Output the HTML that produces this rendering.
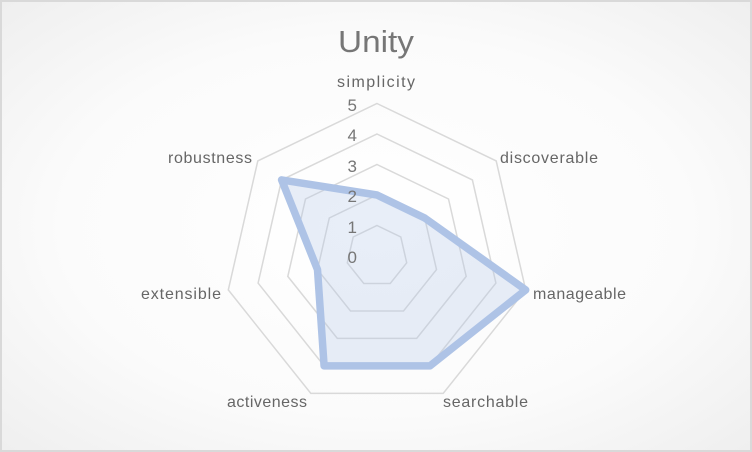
<!DOCTYPE html>
<html><head><meta charset="utf-8"><style>
html,body{margin:0;padding:0;}
body{width:752px;height:452px;overflow:hidden;}
</style></head><body>
<svg width="752" height="452" xmlns="http://www.w3.org/2000/svg" style="display:block">
<defs>
<radialGradient id="bg" cx="50%" cy="50%" r="70%">
<stop offset="0" stop-color="#ffffff"/><stop offset="0.6" stop-color="#fbfbfb"/><stop offset="1" stop-color="#efefef"/>
</radialGradient>
</defs>
<rect x="1" y="1" width="750" height="450" fill="url(#bg)" stroke="#d9d9d9" stroke-width="2"/>
<text x="376" y="52" text-anchor="middle" font-family="Liberation Sans, sans-serif" font-size="31" fill="#767676" textLength="76" lengthAdjust="spacingAndGlyphs">Unity</text>
<g fill="none" stroke="#d9d9d9" stroke-width="1.5">
<polygon points="377,103.5 496.2,160.9 525.7,289.9 443.2,393.4 310.8,393.4 228.3,289.9 257.8,160.9"/>
<polygon points="377,134 472.4,179.9 495.9,283.1 429.9,365.9 324.1,365.9 258.1,283.1 281.6,179.9"/>
<polygon points="377,164.5 448.5,199 466.2,276.4 416.7,338.4 337.3,338.4 287.8,276.4 305.5,199"/>
<polygon points="377,195 424.7,218 436.5,269.6 403.5,311 350.5,311 317.5,269.6 329.3,218"/>
<polygon points="377,225.5 400.8,237 406.7,262.8 390.2,283.5 363.8,283.5 347.3,262.8 353.2,237"/>
</g>
<polygon points="377,195 424.7,218 525.7,289.9 429.9,365.9 324.1,365.9 317.5,269.6 281.6,179.9" fill="rgba(180,199,231,0.3)" stroke="#aec3e6" stroke-width="7.5" stroke-linejoin="round"/>
<g font-family="Liberation Sans, sans-serif" font-size="17" fill="#767676" text-anchor="end">
<text x="357" y="111">5</text>
<text x="357" y="141">4</text>
<text x="357" y="172">3</text>
<text x="357" y="202">2</text>
<text x="357" y="233">1</text>
<text x="357" y="263">0</text>
</g>
<g font-family="Liberation Sans, sans-serif" font-size="16" fill="#666666" lengthAdjust="spacingAndGlyphs">
<text x="376" y="87" text-anchor="middle" textLength="78">simplicity</text>
<text x="500" y="163" textLength="98">discoverable</text>
<text x="533" y="299" textLength="93">manageable</text>
<text x="443" y="407" textLength="85">searchable</text>
<text x="307" y="407" text-anchor="end" textLength="80">activeness</text>
<text x="221" y="299" text-anchor="end" textLength="80">extensible</text>
<text x="252" y="163" text-anchor="end" textLength="84">robustness</text>
</g>
</svg>
</body></html>
